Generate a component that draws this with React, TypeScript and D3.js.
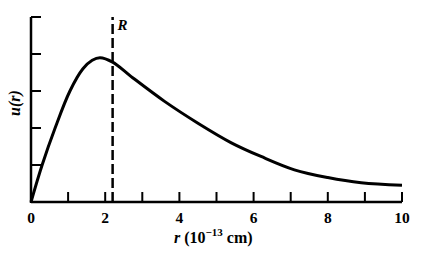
import React from "react";
import * as d3 from "d3";

const rValues = [0, 0.3, 0.65, 1.05, 1.4, 1.65, 1.86, 2.2, 2.7, 3.6, 4.5, 5.4, 6.2, 7.1, 8.0, 8.9, 10];
const uValues = [0, 1.0, 2.0, 3.0, 3.6, 3.83, 3.9, 3.78, 3.39, 2.72, 2.13, 1.6, 1.23, 0.87, 0.66, 0.52, 0.45];
const xTicks = [1, 2, 3, 4, 5, 6, 7, 8, 9, 10];
const xTickLabels = [0, 2, 4, 6, 8, 10];
const yTicks = [1, 2, 3, 4, 5];
const radiusR = 2.2;

const W = 438;
const H = 255;

export default function App() {
  const x = d3.scaleLinear().domain([0, 10]).range([31, 402]);
  const y = d3.scaleLinear().domain([0, 5]).range([202, 17]);
  const pts: [number, number][] = rValues.map((r, i) => [r, uValues[i]]);
  const line = d3
    .line<[number, number]>()
    .x((d) => x(d[0]))
    .y((d) => y(d[1]))
    .curve(d3.curveCatmullRom.alpha(0.5));
  const font = "'Liberation Serif', 'DejaVu Serif', serif";
  return (
    <svg
      width={W}
      height={H}
      style={{ position: "absolute", left: 0, top: 0, background: "#fff" }}
      fontFamily={font}
    >
      {/* axes */}
      <line x1={x(0)} x2={x(10)} y1={y(0)} y2={y(0)} stroke="#000" strokeWidth={2.5} />
      <line x1={x(0)} x2={x(0)} y1={y(0) + 1} y2={y(5)} stroke="#000" strokeWidth={2.5} />
      {xTicks.map((t) => (
        <line key={"xt" + t} x1={x(t)} x2={x(t)} y1={y(0)} y2={y(0) - 10} stroke="#000" strokeWidth={2} />
      ))}
      {yTicks.map((t) => (
        <line key={"yt" + t} x1={x(0)} x2={x(0) + 10} y1={y(t)} y2={y(t)} stroke="#000" strokeWidth={2} />
      ))}
      {xTickLabels.map((t) => (
        <text
          key={"xl" + t}
          x={x(t)}
          y={223}
          textAnchor="middle"
          fontSize={15.5}
          fontWeight="bold"
        >
          {t}
        </text>
      ))}
      {/* dashed R line */}
      <line
        x1={x(radiusR)}
        x2={x(radiusR)}
        y1={y(0)}
        y2={y(5)}
        stroke="#000"
        strokeWidth={2.5}
        strokeDasharray="10 4"
      />
      <text x={x(radiusR) + 5} y={30} fontSize={15} fontWeight="bold" fontStyle="italic">
        R
      </text>
      {/* curve */}
      <path d={line(pts) || ""} fill="none" stroke="#000" strokeWidth={3} />
      {/* labels */}
      <text
        transform={`translate(20, 103) rotate(-90)`}
        textAnchor="middle"
        fontSize={16}
        fontWeight="bold"
        fontStyle="italic"
      >
        u(r)
      </text>
      <text x={174} y={243} fontSize={16} fontWeight="bold">
        <tspan fontStyle="italic">r</tspan>
        <tspan> (10</tspan>
        <tspan fontSize={11} dy={-7}>−13</tspan>
        <tspan dy={7}> cm)</tspan>
      </text>
    </svg>
  );
}
